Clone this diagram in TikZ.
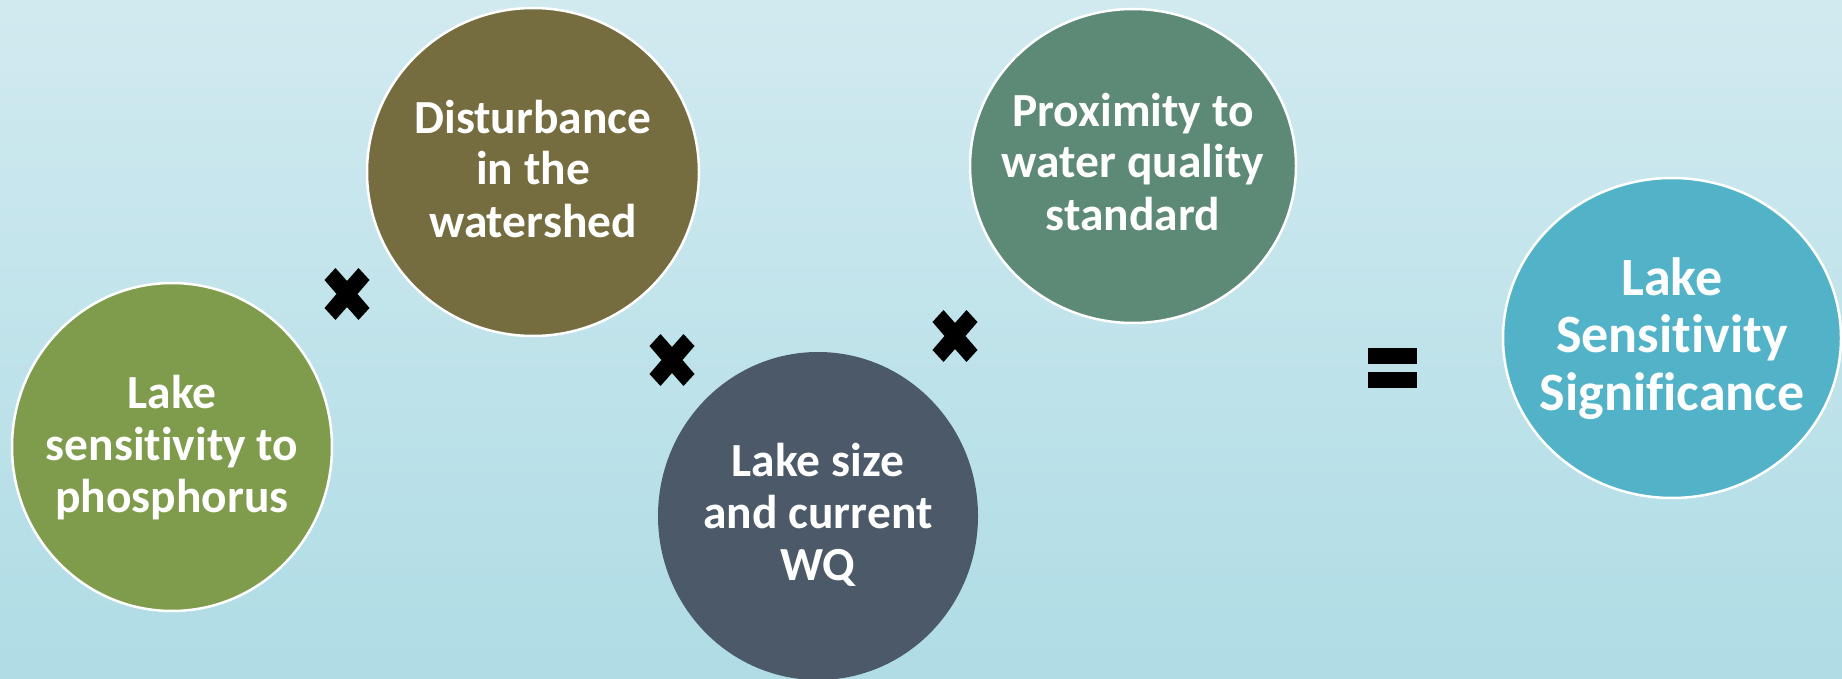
\documentclass[tikz,border=0pt]{standalone}
\usepackage{fontspec}
\setmainfont{Carlito}[Ligatures={NoCommon}]
\usetikzlibrary{shapes.geometric}
\definecolor{bgtop}{HTML}{D1EAF0}
\definecolor{bgbot}{HTML}{AFDCE5}
\definecolor{cgreen}{HTML}{7F9B4C}
\definecolor{colive}{HTML}{756D3F}
\definecolor{cslate}{HTML}{4B5968}
\definecolor{cteal}{HTML}{5D8977}
\definecolor{cblue}{HTML}{52B3C8}
\begin{document}
\begin{tikzpicture}[x=1pt,y=-1pt,
  bubble/.style={ellipse, draw=white, line width=2.5pt, inner sep=0pt},
  lbl/.style={text=white, font=\bfseries\fontsize{47.5}{52}\selectfont, align=center, anchor=base, inner sep=0pt},
  biglbl/.style={lbl, font=\bfseries\fontsize{54}{57.5}\selectfont},
  mult/.pic={\fill[black] (-11.5,-26)--(0,-13)--(11.5,-26)--(22.5,-14)--(10.5,0)--(22.5,14)--(11.5,26)--(0,13)--(-11.5,26)--(-22.5,14)--(-10.5,0)--(-22.5,-14)--cycle;},
  eqbar/.style={fill=black}]
\useasboundingbox (0,0) rectangle (1842,679);
\shade[top color=bgtop, bottom color=bgbot] (0,0) rectangle (1842,679);

\node[bubble, fill=cgreen, minimum width=320pt, minimum height=328pt] (c1) at (172,447) {};
\node[bubble, fill=colive, minimum width=332pt, minimum height=328pt] (c2) at (533,172) {};
\node[bubble, draw=none, fill=cslate, minimum width=320pt, minimum height=328pt] (c3) at (818,516) {};
\node[bubble, fill=cteal, minimum width=326pt, minimum height=314pt] (c4) at (1133,166) {};
\node[bubble, fill=cblue, minimum width=338pt, minimum height=320pt] (c5) at (1672,338) {};

\node[lbl] (t1) at (172,512) {Lake\\sensitivity to\\phosphorus};
\node[lbl] (t2) at (533,237) {Disturbance\\in the\\watershed};
\node[lbl] (t3) at (818,580) {Lake size\\and current\\WQ};
\node[lbl] (t4) at (1133,230) {Proximity to\\water quality\\standard};
\node[biglbl] (t5) at (1672,410) {Lake\\Sensitivity\\Significance};

\pic at (347,294) {mult};
\pic at (672,360) {mult};
\pic at (955,336) {mult};

\fill[eqbar] (1368,348) rectangle (1417,364);
\fill[eqbar] (1368,372) rectangle (1417,388);
\end{tikzpicture}
\end{document}
